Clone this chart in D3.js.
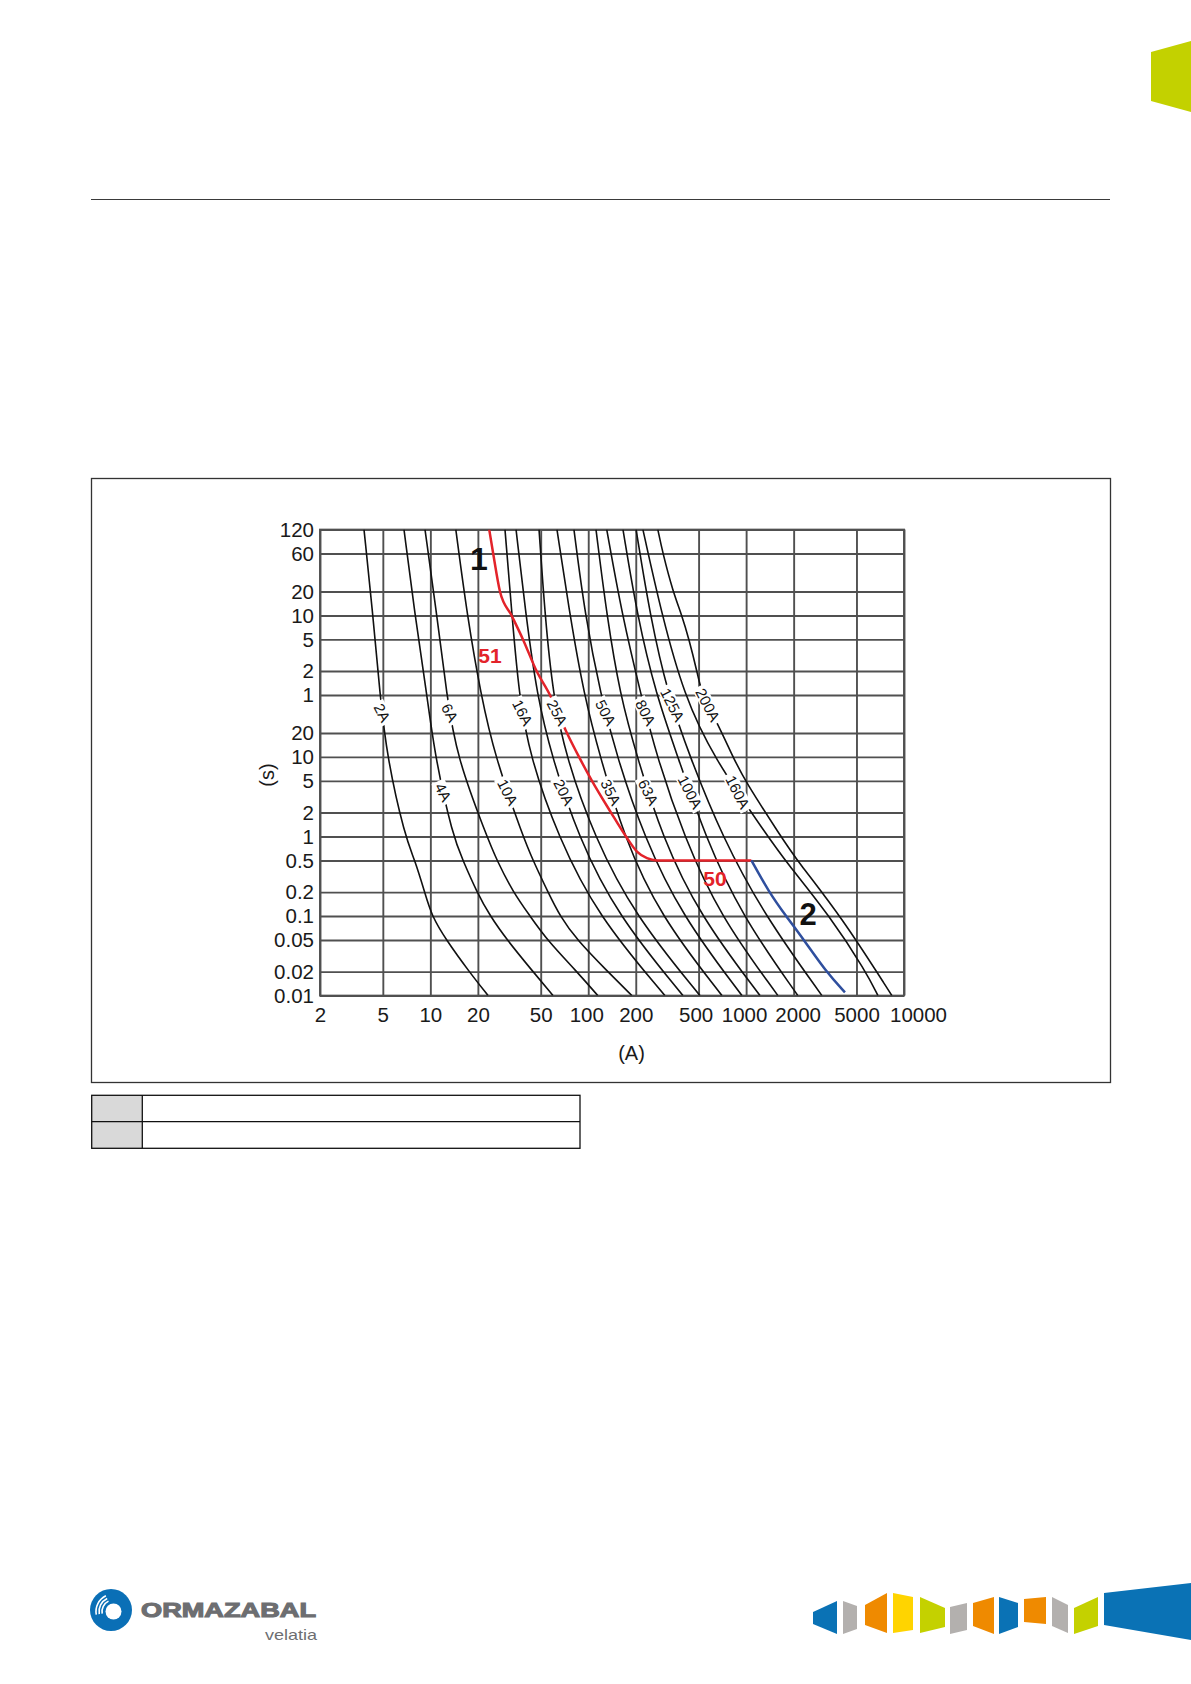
<!DOCTYPE html>
<html><head><meta charset="utf-8">
<script src="https://cdn.jsdelivr.net/npm/d3@7"></script>
<style>
html,body{margin:0;padding:0;background:#fff;}
svg{display:block;}
text{font-family:"Liberation Sans",Arial,sans-serif;}
</style></head><body>
<svg id="page" width="1191" height="1684"></svg>
<script>
// ---------- axis ticks ----------
const xTicks = [2,5,10,20,50,100,200,500,1000,2000,5000,10000];
const yTicks = [0.01,0.02,0.05,0.1,0.2,0.5,1,2,5,10,20,60,120,300,600,1200,3600,7200];
const yTickLabels = ["0.01","0.02","0.05","0.1","0.2","0.5","1","2","5","10","20","1","2","5","10","20","60","120"];

// ---------- fuse curves: [current (A), time (s)] ----------
const fuse2A   = [[3.8,7200],[4.33,600],[4.8,60],[5.31,10],[6.9,1],[8.0,0.5],[9.2,0.2],[10.2,0.1],[12.6,0.05],[17.6,0.02],[23.2,0.01]];
const fuse4A   = [[6.81,7200],[7.99,600],[9.52,60],[10.7,10],[13.9,1],[16.1,0.5],[19.7,0.2],[23.9,0.1],[30.6,0.05],[44.7,0.02],[59.8,0.01]];
const fuse6A   = [[9.25,7200],[11.0,600],[12.7,60],[14.7,10],[22.8,1],[26.4,0.5],[33.4,0.2],[42.8,0.1],[54.8,0.05],[84.8,0.02],[115,0.01]];
const fuse10A  = [[14.5,7200],[17.1,600],[20.9,60],[25.7,10],[38.6,1],[44.7,0.5],[55.6,0.2],[66.2,0.1],[84.8,0.05],[133,0.02],[189,0.01]];
const fuse16A  = [[29.7,7200],[32.9,600],[36.4,60],[42.8,10],[64.3,1],[115,0.1],[306,0.01]];
const fuse20A  = [[34.9,7200],[40.3,600],[47.3,60],[58.9,10],[86.1,1],[154,0.1],[398,0.01]];
const fuse25A  = [[48.8,7200],[53.2,600],[59.8,60],[72.3,10],[109,1],[198,0.1],[510,0.01]];
const fuse35A  = [[63.4,7200],[76.6,600],[94.0,60],[119,10],[168,1],[285,0.1],[703,0.01]];
const fuse50A  = [[81.2,7200],[95.4,600],[120,60],[152,10],[225,1],[392,0.1],[941,0.01]];
const fuse63A  = [[112,7200],[131,600],[159,60],[204,10],[293,1],[510,0.1],[1224,0.01]];
const fuse80A  = [[131,7200],[164,600],[216,60],[272,10],[404,1],[683,0.1],[1591,0.01]];
const fuse100A = [[166,7200],[204,600],[269,60],[370,10],[549,1],[941,0.1],[2129,0.01]];
const fuse125A = [[201,7200],[246,600],[320,60],[441,10],[703,1],[1316,0.1],[3022,0.01]];
const fuse160A = [[222,7200],[293,600],[404,60],[617,10],[1374,1],[1762,0.5],[3396,0.1],[5740,0.02],[6840,0.01]];
const fuse200A = [[276,7200],[297,3600],[344,1200],[392,600],[435,300],[488,120],[525,60],[654,27.5],[825,10],[983,5],[1662,1],[2099,0.5],[3986,0.1],[8386,0.01]];

const fuseLabels = ["2A","4A","6A","10A","16A","20A","25A","35A","50A","63A","80A","100A","125A","160A","200A"];
const fuseLabelTimes = [36,3.6,36,3.6,36,3.6,36,3.6,36,3.6,36,3.6,45,3.6,45];

// ---------- relay curve 51 / 50 (red) and curve 2 (blue) ----------
const relayCurrent = [23.6,25.0,27.6,32.7,38.6,47.1,57.2,73.3,87.4,105.6,139.3,173.4,203.5,235.6,272,1080];
const relayTime    = [7200,3600,1200,600,300,120,60,20,10,5,2,1,0.646,0.534,0.5,0.5];
const blueCurrent  = [1080,1395,1788,2325,3204,4227];
const blueTime     = [0.5,0.2,0.1,0.05,0.02,0.011];

// ---------- build ----------
const fuseSets = [fuse2A,fuse4A,fuse6A,fuse10A,fuse16A,fuse20A,fuse25A,fuse35A,fuse50A,fuse63A,fuse80A,fuse100A,fuse125A,fuse160A,fuse200A];
const fuses = fuseSets.map((pts,i)=>({label:fuseLabels[i], labelT:fuseLabelTimes[i], pts}));
const relay = relayCurrent.map((c,i)=>[c,relayTime[i]]);
const blue = blueCurrent.map((c,i)=>[c,blueTime[i]]);

const svg = d3.select("#page");
const M = {left:320, right:904, top:529.6, bottom:995.6};
const x = d3.scaleLog().domain([2,10000]).range([M.left,M.right]);
const y = d3.scaleLog().domain([0.01,7200]).range([M.bottom,M.top]);
const FONT = "Liberation Sans, Arial, sans-serif";

// page decorations
svg.append("line").attr("x1",91).attr("x2",1110).attr("y1",199.5).attr("y2",199.5)
  .attr("stroke","#3a3a3a").attr("stroke-width",1.2);
svg.append("polygon").attr("points","1151,52 1191,41 1191,112 1151,101").attr("fill","#c3d100");
svg.append("rect").attr("x",91.5).attr("y",478.5).attr("width",1019).attr("height",604)
  .attr("fill","none").attr("stroke","#333").attr("stroke-width",1.3);

const g = svg.append("g");
svg.append("defs").append("clipPath").attr("id","plotclip").append("rect")
  .attr("x",M.left).attr("y",M.top).attr("width",M.right-M.left).attr("height",M.bottom-M.top);

// grid + axes
const gridColor = "#505050";
const yAxis = d3.axisLeft(y).tickValues(yTicks).tickFormat((d,i)=>yTickLabels[i])
  .tickSizeInner(-(M.right-M.left)).tickSizeOuter(0).tickPadding(6);
g.append("g").attr("transform",`translate(${M.left},0)`).call(yAxis)
  .attr("font-size",20.5).attr("font-family",FONT)
  .call(s=>s.select(".domain").remove())
  .call(s=>s.selectAll("line").attr("stroke",gridColor).attr("stroke-width",1.9))
  .call(s=>s.selectAll("text").attr("fill","#1a1a1a").attr("dy","0.33em"));
const xNudge = {10000:14, 2000:4, 500:-3, 1000:-2, 100:-2};
const xAxis = d3.axisBottom(x).tickValues(xTicks).tickFormat(d=>String(d))
  .tickSizeInner(-(M.bottom-M.top)).tickSizeOuter(0).tickPadding(12);
g.append("g").attr("transform",`translate(0,${M.bottom})`).call(xAxis)
  .attr("font-size",20.5).attr("font-family",FONT)
  .call(s=>s.select(".domain").remove())
  .call(s=>s.selectAll("line").attr("stroke",gridColor).attr("stroke-width",1.9))
  .call(s=>s.selectAll("text").attr("fill","#1a1a1a").attr("dx",d=>xNudge[d]||0));
g.append("rect").attr("x",M.left).attr("y",M.top).attr("width",M.right-M.left).attr("height",M.bottom-M.top)
  .attr("fill","none").attr("stroke",gridColor).attr("stroke-width",1.9);

// curves
const fuseLine = d3.line().x(d=>x(d[0])).y(d=>y(d[1])).curve(d3.curveBasis);
const relayLine = d3.line().x(d=>x(d[0])).y(d=>y(d[1])).curve(d3.curveMonotoneX);
const cg = g.append("g").attr("clip-path","url(#plotclip)");
const fusePaths = cg.selectAll("path.fuse").data(fuses).join("path").attr("class","fuse")
  .attr("d",d=>fuseLine(d.pts)).attr("fill","none").attr("stroke","#111").attr("stroke-width",1.6);

// fuse labels placed on the drawn path
function pointAtY(node, ty){
  const L = node.getTotalLength();
  let lo=0, hi=L;
  for(let k=0;k<40;k++){
    const mid=(lo+hi)/2;
    if(node.getPointAtLength(mid).y < ty) lo=mid; else hi=mid;
  }
  return node.getPointAtLength((lo+hi)/2);
}
fusePaths.each(function(f){
  const p = pointAtY(this, y(f.labelT));
  const lg = g.append("g").attr("transform",`translate(${p.x},${p.y}) rotate(63)`);
  const r = lg.append("rect").attr("fill","#fff");
  const t = lg.append("text").text(f.label).attr("text-anchor","middle").attr("dy","0.36em")
    .attr("font-size",15).attr("fill","#111");
  const w = t.node().getComputedTextLength();
  r.attr("x",-w/2-3).attr("y",-7).attr("width",w+6).attr("height",14);
});

cg.append("path").datum(relay).attr("d",relayLine).attr("fill","none").attr("stroke","#e3232a").attr("stroke-width",2.5);
cg.append("path").datum(blue).attr("d",fuseLine).attr("fill","none").attr("stroke","#2f4f9e").attr("stroke-width",2.5);

// annotations
g.append("text").attr("x",479).attr("y",570).attr("text-anchor","middle").attr("font-size",32)
  .attr("font-weight","bold").attr("fill","#111").text("1");
g.append("text").attr("x",808).attr("y",925).attr("text-anchor","middle").attr("font-size",31)
  .attr("font-weight","bold").attr("fill","#111").text("2");
g.append("text").attr("x",490).attr("y",663).attr("text-anchor","middle").attr("font-size",21)
  .attr("font-weight","bold").attr("fill","#e3232a").text("51");
g.append("text").attr("x",715).attr("y",886).attr("text-anchor","middle").attr("font-size",21)
  .attr("font-weight","bold").attr("fill","#e3232a").text("50");

// axis titles
g.append("text").attr("transform","translate(274,775) rotate(-90)").attr("text-anchor","middle")
  .attr("font-size",20).attr("fill","#1a1a1a").text("(s)");
g.append("text").attr("x",631.5).attr("y",1060).attr("text-anchor","middle")
  .attr("font-size",20).attr("fill","#1a1a1a").text("(A)");

// empty legend table
const tb = svg.append("g");
tb.append("rect").attr("x",91.7).attr("y",1095.3).attr("width",50.6).attr("height",53).attr("fill","#d9d9d9");
tb.append("rect").attr("x",91.7).attr("y",1095.3).attr("width",488.3).attr("height",53)
  .attr("fill","none").attr("stroke","#111").attr("stroke-width",1.3);
tb.append("line").attr("x1",91.7).attr("x2",580).attr("y1",1121.7).attr("y2",1121.7).attr("stroke","#111").attr("stroke-width",1.3);
tb.append("line").attr("x1",142.3).attr("x2",142.3).attr("y1",1095.3).attr("y2",1148.3).attr("stroke","#111").attr("stroke-width",1.3);

// footer logo
const lg = svg.append("g");
lg.append("circle").attr("cx",111).attr("cy",1610).attr("r",21).attr("fill","#0a6fb6");
lg.append("circle").attr("cx",113.5).attr("cy",1611.5).attr("r",8).attr("fill","#fff");
[11.5,14.5,17.5].forEach(rr=>{
  const arc = d3.arc().innerRadius(rr-0.8).outerRadius(rr+0.8).startAngle(-1.75).endAngle(-0.45);
  lg.append("path").attr("d",arc()).attr("transform","translate(113.5,1611.5)").attr("fill","#fff");
});
lg.append("text").attr("x",141).attr("y",1617).attr("font-family","DejaVu Sans, sans-serif")
  .attr("font-weight","bold").attr("font-size",21).attr("fill","#6d6e71")
  .attr("stroke","#6d6e71").attr("stroke-width",1.1)
  .attr("textLength",175).attr("lengthAdjust","spacingAndGlyphs").text("ORMAZABAL");
lg.append("text").attr("x",265).attr("y",1640).attr("font-family","DejaVu Sans, sans-serif")
  .attr("font-size",15).attr("fill","#6d6e71")
  .attr("textLength",52).attr("lengthAdjust","spacingAndGlyphs").text("velatia");

// footer stripe shapes
const shapes = [
  ["#0a72b5","813,1612 837,1601 837,1634 813,1624"],
  ["#b3b0ae","843,1601 857,1606 857,1629 843,1634"],
  ["#ef8a00","865,1605 887,1593 887,1633 865,1625"],
  ["#ffd400","893,1593 913,1597 913,1630 893,1633"],
  ["#c4d100","920,1597 945,1608 945,1627 920,1633"],
  ["#b3b0ae","950,1607 967,1603 967,1630 950,1634"],
  ["#ef8a00","973,1603 994,1597 994,1634 973,1626"],
  ["#0a72b5","999,1597 1018,1603 1018,1627 999,1634"],
  ["#ef8a00","1024,1599 1046,1597 1046,1624 1024,1622"],
  ["#b3b0ae","1052,1597 1068,1605 1068,1633 1052,1626"],
  ["#c4d100","1074,1608 1098,1597 1098,1626 1074,1634"],
  ["#0a72b5","1104,1593 1191,1583 1191,1640 1104,1625"]
];
svg.append("g").selectAll("polygon").data(shapes).join("polygon")
  .attr("points",d=>d[1]).attr("fill",d=>d[0]);
</script></body></html>
